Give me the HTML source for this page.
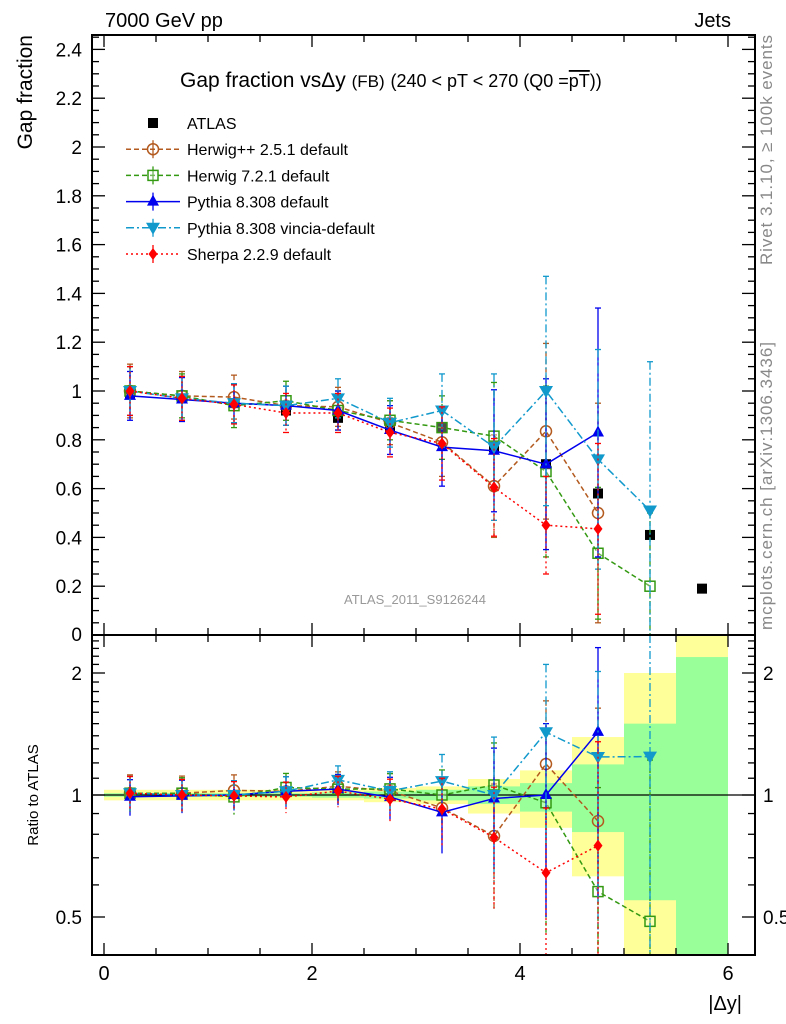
<!DOCTYPE html>
<html><head><meta charset="utf-8">
<style>
body{margin:0;background:#fff;}
svg{display:block;font-family:"Liberation Sans",sans-serif;}
</style></head>
<body>
<svg id="c" width="786" height="1024" viewBox="0 0 786 1024" xmlns="http://www.w3.org/2000/svg">
<text x="105" y="27" font-size="20">7000 GeV pp</text>
<text x="731" y="27" font-size="20" text-anchor="end">Jets</text>
<text x="180" y="87" font-size="21">Gap fraction vsΔy <tspan font-size="17">(FB)</tspan> <tspan font-size="18">(240 &lt; pT &lt; 270 (Q0 =<tspan text-decoration="overline">pT</tspan>))</tspan></text>
<text transform="translate(32,35) rotate(-90)" font-size="21" text-anchor="end">Gap fraction</text>
<text transform="translate(38,795) rotate(-90)" font-size="15" text-anchor="middle">Ratio to ATLAS</text>
<text x="742" y="1010" font-size="20" text-anchor="end">|Δy|</text>
<text transform="translate(772,265) rotate(-90)" font-size="17" fill="#888" textLength="230">Rivet 3.1.10, ≥ 100k events</text>
<text transform="translate(772,630) rotate(-90)" font-size="17" fill="#888" textLength="288">mcplots.cern.ch [arXiv:1306.3436]</text>
<text x="415" y="604" font-size="13" fill="#999" text-anchor="middle">ATLAS_2011_S9126244</text>
<g id="bands"></g><g id="plot"></g><g id="axes"></g><g id="legend"></g>
</svg>
<script>
const xCenters=[0.25,0.75,1.25,1.75,2.25,2.75,3.25,3.75,4.25,4.75,5.25,5.75];
const atlas=[0.99,0.97,0.95,0.92,0.89,0.85,0.85,0.77,0.70,0.58,0.41,0.19];
const herwigpp=[1.0,0.98,0.975,0.94,0.935,0.87,0.79,0.61,0.835,0.50];
const herwigppErr=[0.11,0.1,0.09,0.08,0.08,0.09,0.14,0.21,0.36,0.45];
const herwig7=[1.0,0.98,0.94,0.96,0.92,0.88,0.85,0.815,0.67,0.335,0.20];
const herwig7Err=[0.1,0.09,0.09,0.08,0.08,0.08,0.13,0.22,0.35,0.27,0.3];
const pythia=[0.98,0.965,0.95,0.94,0.92,0.84,0.77,0.755,0.70,0.83];
const pythiaErr=[0.1,0.09,0.08,0.08,0.08,0.1,0.16,0.25,0.35,0.51];
const vincia=[1.0,0.97,0.95,0.94,0.97,0.87,0.92,0.77,1.0,0.72,0.51];
const vinciaErr=[0.1,0.09,0.08,0.08,0.08,0.1,0.15,0.3,0.47,0.45,0.61];
const sherpa=[1.0,0.97,0.945,0.91,0.91,0.83,0.785,0.605,0.45,0.435];
const sherpaErr=[0.1,0.09,0.08,0.08,0.08,0.1,0.15,0.2,0.2,0.35];
const bandTotLo=[0.97,0.97,0.97,0.97,0.97,0.96,0.95,0.90,0.83,0.63,0.3,0.3];
const bandTotHi=[1.03,1.03,1.03,1.03,1.03,1.04,1.05,1.095,1.15,1.39,2.0,3.0];
const bandStatLo=[0.99,0.99,0.99,0.99,0.985,0.98,0.97,0.95,0.91,0.81,0.55,0.3];
const bandStatHi=[1.01,1.01,1.01,1.01,1.015,1.02,1.03,1.05,1.07,1.19,1.5,2.19];
const mainTicks=[0,0.2,0.4,0.6,0.8,1,1.2,1.4,1.6,1.8,2,2.2,2.4];
const xTicks=[0,2,4,6];
const ratioTicks=[0.5,1,2];

const NS="http://www.w3.org/2000/svg";
const L=92,R=755,T=35,MB=635,RB=955;
const X=v=>104+104*v;
const Y=v=>635-244*v;
const RY=r=>795-Math.log2(r)*122;
function el(tag,at,parent){const e=document.createElementNS(NS,tag);for(const k in at)e.setAttribute(k,at[k]);parent.appendChild(e);return e;}
const bands=document.getElementById('bands'),plot=document.getElementById('plot'),axes=document.getElementById('axes'),leg=document.getElementById('legend');
const cy=(v,lo,hi)=>Math.max(lo,Math.min(hi,v));

xCenters.forEach((c,i)=>{
  const x0=X(c-0.25),x1=X(c+0.25);
  const b=el('rect',{x:x0,y:cy(RY(bandTotHi[i]),MB,RB),width:x1-x0,height:cy(RY(bandTotLo[i]),MB,RB)-cy(RY(bandTotHi[i]),MB,RB),fill:'#ffff99'},bands);
  
  
  const g=el('rect',{x:x0,y:cy(RY(bandStatHi[i]),MB,RB),width:x1-x0,height:cy(RY(bandStatLo[i]),MB,RB)-cy(RY(bandStatHi[i]),MB,RB),fill:'#99ff99'},bands);
  
  
});
el('line',{x1:L,x2:R,y1:RY(1),y2:RY(1),stroke:'#000','stroke-width':1.2},bands);

function marker(type,x,y,col,parent){
  let m;
  if(type==='sq') m=el('rect',{x:x-5,y:y-5,width:10,height:10,fill:'#000'},parent);
  else if(type==='osq') m=el('rect',{x:x-5,y:y-5,width:10,height:10,fill:'#fff','fill-opacity':0.3,stroke:col,'stroke-width':1.5},parent);
  else if(type==='circ') m=el('circle',{cx:x,cy:y,r:5.5,fill:'none',stroke:col,'stroke-width':1.5},parent);
  else if(type==='tri') m=el('path',{d:`M${x} ${y-7}L${x+6} ${y+4}L${x-6} ${y+4}Z`,fill:col},parent);
  else if(type==='dtri') m=el('path',{d:`M${x} ${y+7}L${x+7} ${y-5}L${x-7} ${y-5}Z`,fill:col},parent);
  else if(type==='dia') m=el('path',{d:`M${x} ${y-6}L${x+4.5} ${y}L${x} ${y+6}L${x-4.5} ${y}Z`,fill:col},parent);
  return m;
}
const series=[
 {name:'herwigpp',vals:herwigpp,err:herwigppErr,col:'#b35a1f',dash:'5,3',m:'circ',label:'Herwig++ 2.5.1 default'},
 {name:'herwig7',vals:herwig7,err:herwig7Err,col:'#339911',dash:'5,3',m:'osq',label:'Herwig 7.2.1 default'},
 {name:'pythia',vals:pythia,err:pythiaErr,col:'#0000ee',dash:'',m:'tri',label:'Pythia 8.308 default'},
 {name:'vincia',vals:vincia,err:vinciaErr,col:'#1199cc',dash:'8,3,2,3',m:'dtri',label:'Pythia 8.308 vincia-default'},
 {name:'sherpa',vals:sherpa,err:sherpaErr,col:'#ff0000',dash:'2,3',m:'dia',label:'Sherpa 2.2.9 default'}
];
atlas.forEach((v,i)=>{const m=marker('sq',X(xCenters[i]),Y(v),'#000',plot);
  
  });
series.forEach(s=>{
  const g=el('g',{},plot);
  
  
  const pts=[],rpts=[];
  s.vals.forEach((v,i)=>{
    const x=X(xCenters[i]);
    const e=s.err[i];
    const y1=cy(Y(v+e),T,MB),y2=cy(Y(v-e),T,MB);
    el('line',{x1:x,x2:x,y1:y1,y2:y2,stroke:s.col,'stroke-width':1.3,'stroke-dasharray':s.dash},g);
    el('line',{x1:x-3,x2:x+3,y1:y1,y2:y1,stroke:s.col,'stroke-width':1.3},g);
    if(v-e>0)el('line',{x1:x-3,x2:x+3,y1:y2,y2:y2,stroke:s.col,'stroke-width':1.3},g);
    pts.push(x+','+Y(v));
    const r=v/atlas[i],re=e/atlas[i];
    const ry1=cy(RY(r+re),MB,RB),ry2=(r-re>0.01)?cy(RY(r-re),MB,RB):RB;
    el('line',{x1:x,x2:x,y1:ry1,y2:ry2,stroke:s.col,'stroke-width':1.3,'stroke-dasharray':s.dash},g);
    el('line',{x1:x-3,x2:x+3,y1:ry1,y2:ry1,stroke:s.col,'stroke-width':1.3},g);
    rpts.push(x+','+RY(r));
  });
  el('polyline',{points:pts.join(' '),fill:'none',stroke:s.col,'stroke-width':1.5,'stroke-dasharray':s.dash},g);
  el('polyline',{points:rpts.join(' '),fill:'none',stroke:s.col,'stroke-width':1.5,'stroke-dasharray':s.dash},g);
  s.vals.forEach((v,i)=>{
    const m=marker(s.m,X(xCenters[i]),Y(v),s.col,g);
    
    
    const rm=marker(s.m,X(xCenters[i]),RY(v/atlas[i]),s.col,g);
    
    
  });
});
el('rect',{x:L,y:T,width:R-L,height:MB-T,fill:'none',stroke:'#000','stroke-width':2},axes);
el('rect',{x:L,y:MB,width:R-L,height:RB-MB,fill:'none',stroke:'#000','stroke-width':2},axes);
for(let k=0;k<=12;k++){const v=k*0.5;const x=X(v);const len=(k%4===0)?12:7;
  [[MB,-1],[RB,-1],[T,1],[MB,1]].forEach(([y,d])=>el('line',{x1:x,x2:x,y1:y,y2:y+d*len,stroke:'#000','stroke-width':1.3},axes));}
xTicks.forEach(v=>{const t=el('text',{x:X(v),y:980,'font-size':20,'text-anchor':'middle'},axes);t.textContent=v;
  
  });
for(let k=0;k<=49;k++){const v=k*0.05;const y=Y(v);if(y<T)continue;const len=(k%4===0)?13:7;
  el('line',{x1:L,x2:L+len,y1:y,y2:y,stroke:'#000','stroke-width':1.3},axes);
  el('line',{x1:R,x2:R-len,y1:y,y2:y,stroke:'#000','stroke-width':1.3},axes);}
mainTicks.forEach(v=>{const t=el('text',{x:82,y:Math.min(Y(v)+7,641),'font-size':19,'text-anchor':'end'},axes);t.textContent=v;
  
  });
const minor=[0.4,0.5,0.6,0.7,0.8,0.9,1,1.1,1.2,1.3,1.4,1.5,1.6,1.7,1.8,1.9,2,2.1,2.2,2.3,2.4];
minor.forEach(v=>{const y=RY(v);if(y<MB||y>RB)return;const len=ratioTicks.includes(v)?13:7;
  el('line',{x1:L,x2:L+len,y1:y,y2:y,stroke:'#000','stroke-width':1.3},axes);
  el('line',{x1:R,x2:R-len,y1:y,y2:y,stroke:'#000','stroke-width':1.3},axes);});
ratioTicks.forEach(v=>{
  const t=el('text',{x:82,y:RY(v)+7,'font-size':19,'text-anchor':'end'},axes);t.textContent=v;
  
  
  const t2=el('text',{x:763,y:RY(v)+7,'font-size':19},axes);t2.textContent=v;
  
  });
const entries=[{m:'sq',col:'#000',dash:null,label:'ATLAS',name:'atlas'}].concat(series);
entries.forEach((s,i)=>{
  const y=123+i*26.2;
  const g=el('g',{},leg);
  
  
  if(s.dash!==null&&s.dash!==undefined){
    el('line',{x1:126,x2:180,y1:y,y2:y,stroke:s.col,'stroke-width':1.5,'stroke-dasharray':s.dash},g);
    el('line',{x1:153,x2:153,y1:y-9,y2:y+9,stroke:s.col,'stroke-width':1.3},g);
  }
  marker(s.m,153,y,s.col,g);
  const t=el('text',{x:187,y:y+6,'font-size':16},g);t.textContent=s.label;
});
</script>
</body></html>
